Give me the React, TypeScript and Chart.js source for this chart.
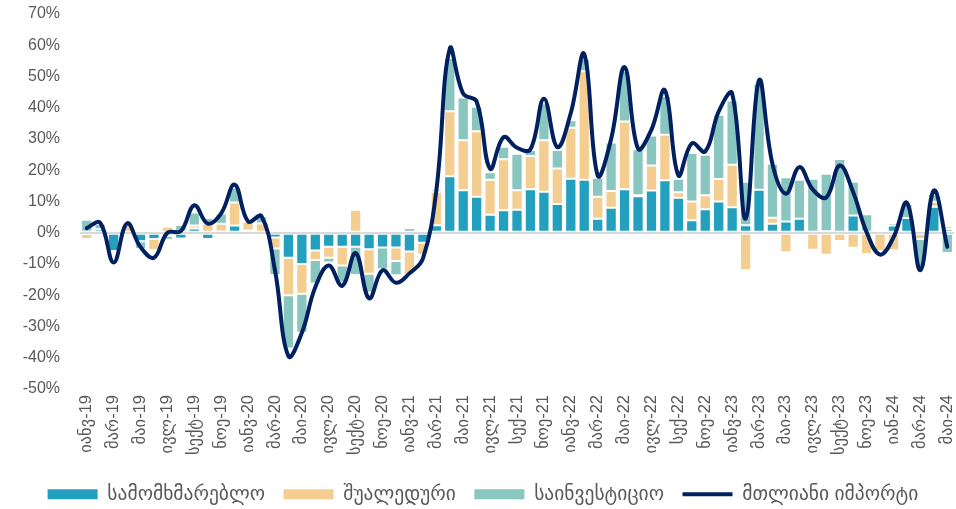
import React, { useEffect, useRef } from 'react';
import { Chart, registerables } from 'chart.js';

Chart.register(...registerables);

const months = [
  'იანვ-19', 'თებ-19', 'მარ-19', 'აპრ-19', 'მაი-19', 'ივნ-19', 'ივლ-19', 'აგვ-19', 'სექტ-19', 'ოქტ-19', 'ნოე-19', 'დეკ-19',
  'იანვ-20', 'თებ-20', 'მარ-20', 'აპრ-20', 'მაი-20', 'ივნ-20', 'ივლ-20', 'აგვ-20', 'სექტ-20', 'ოქტ-20', 'ნოე-20', 'დეკ-20',
  'იანვ-21', 'თებ-21', 'მარ-21', 'აპრ-21', 'მაი-21', 'ივნ-21', 'ივლ-21', 'აგვ-21', 'სექ-21', 'ოქტ-21', 'ნოე-21', 'დეკ-21',
  'იანვ-22', 'თებ-22', 'მარ-22', 'აპრ-22', 'მაი-22', 'ივნ-22', 'ივლ-22', 'აგვ-22', 'სექ-22', 'ოქტ-22', 'ნოე-22', 'დეკ-22',
  'იანვ-23', 'თებ-23', 'მარ-23', 'აპრ-23', 'მაი-23', 'ივნ-23', 'ივლ-23', 'აგვ-23', 'სექტ-23', 'ოქტ-23', 'ნოე-23', 'დეკ-23',
  'იან-24', 'თებ-24', 'მარ-24', 'აპრ-24', 'მაი-24',
];

const seriesNames = ['სამომხმარებლო', 'შუალედური', 'საინვესტიციო', 'მთლიანი იმპორტი'];

const consumer = [
  -0.4, 1.1, -5.8, 0, -2.7, -2, -1, -1.8, 1.4, -2, 0.4, 2.3,
  0.7, -0.8, -1.5, -8, -10, -5.7, -4.5, -4.5, -4.5, -5.3, -4.7, -4.7,
  -6, -3.2, 2.4, 18.1, 13.6, 11.5, 5.8, 7.2, 7.4, 13.9, 13.1, 9.2,
  17.3, 17, 4.5, 8, 13.9, 11.7, 13.5, 16.8, 11.2, 4, 7.5, 10,
  8.2, 2.4, 13.8, 2.9, 3.6, 4.5, 0, 0.5, 0, 5.5, 0.3, 0,
  2.3, 4.7, -0.4, 8.3, 1.1,
];

const intermediate = [
  -1.6, 0, 0, 2.5, 0.8, -3.5, 1.9, 0, 0.9, 3, 2.5, 7.4,
  2.8, 3, -3.5, -12, -9.5, -3, -3.5, -6, 7.4, -7.8, 0, -4.3,
  -7.5, -3.8, 10.7, 20.8, 16, 21, 11.2, 16.3, 6.2, 10.7, 16.5, 11.4,
  16.3, 34.7, 7, 5.4, 21.7, 0.3, 8, 14.6, 1.8, 6, 4.5, 7.2,
  13.6, -12, 0, 1.9, -6.2, 0, -5.4, -7, -2.6, -4.8, -6.8, -5.8,
  -5.6, 0, -1.6, 1.6, 1,
];

const investment = [
  4.2, 1.7, 0, 0.3, -2.5, 0, -1.2, 2.5, 4.2, 1.7, 3.2, 4.8,
  0, 2.4, -8.5, -17, -12.5, -7.5, -1.5, -5.5, -9, -6, -7, -4.6,
  1.5, 0, 0.8, 17, 13.7, 7.8, 2.4, 4, 11.7, 1.9, 11.8, 5.9,
  2.4, 3.9, 6.1, 15.5, 16.2, 14.7, 9.6, 12.4, 4.3, 15.5, 13, 20.6,
  20.5, 13.9, 34, 17.3, 14.2, 12.5, 17.3, 18.4, 23.6, 10.8, 5.6, -0.6,
  0.8, 4.5, -9, 2.4, -6.5,
];

const totalImports = [
  1.5, 3.2, -9.5, 3, -4.6, -8, 0, 0.5, 8.8, 2.9, 6.2, 15.4,
  3.6, 5.3, -12, -39.5, -32, -17.4, -10.5, -17, -6.5, -21, -12, -16,
  -13, -8.3, 13.5, 58.9, 44.5, 42, 20.5, 30.6, 27.2, 26.7, 42.9, 27.4,
  38.3, 57.2, 18.3, 30, 53, 26.9, 33, 45.6, 18.4, 28.6, 26, 38.8,
  44.6, 4.5, 48.8, 22, 12.5, 21, 13.8, 11.3, 21.5, 13, 0.2, -7,
  -1.5, 9.6, -12, 13.5, -4.5,
];

const BLUE = '#23A0BE';
const ORANGE = '#F4CD90';
const TEAL = '#88C6BF';
const NAVY = '#002060';
const TEXT = '#595959';
const FONT = "'Liberation Sans', 'DejaVu Sans', sans-serif";

const LEGEND_SHIFT = 5;

const legendShift = {
  id: 'legendShift',
  afterLayout(chart: any) {
    const lg = chart.legend;
    if (lg) {
      lg.top += LEGEND_SHIFT;
      lg.bottom += LEGEND_SHIFT;
    }
  },
};

export default function App() {
  const ref = useRef<HTMLCanvasElement>(null);

  useEffect(() => {
    const canvas = ref.current;
    if (!canvas) return;
    const barCommon = {
      type: 'bar' as const,
      borderColor: '#ffffff',
      borderWidth: 1,
      borderSkipped: false as const,
      stack: 's',
      order: 1,
    };
    const chart = new Chart(canvas, {
      type: 'bar',
      data: {
        labels: months,
        datasets: [
          { ...barCommon, label: seriesNames[0], data: consumer, backgroundColor: BLUE },
          { ...barCommon, label: seriesNames[1], data: intermediate, backgroundColor: ORANGE },
          { ...barCommon, label: seriesNames[2], data: investment, backgroundColor: TEAL },
          {
            type: 'line' as const,
            label: seriesNames[3],
            data: totalImports,
            borderColor: NAVY,
            backgroundColor: NAVY,
            borderWidth: 4,
            pointRadius: 0,
            pointHoverRadius: 0,
            tension: 0.4,
            borderCapStyle: 'round',
            borderJoinStyle: 'round',
            order: 0,
          } as any,
        ],
      },
      plugins: [legendShift],
      options: {
        responsive: false,
        animation: false,
        layout: { padding: { left: 12, right: 2, top: 14, bottom: 0 } },
        datasets: { bar: { barPercentage: 1, categoryPercentage: 0.84 } },
        scales: {
          x: {
            stacked: true,
            grid: { display: false, drawTicks: false },
            border: { display: false },
            ticks: {
              autoSkip: false,
              minRotation: 90,
              maxRotation: 90,
              padding: 6,
              color: TEXT,
              font: { family: FONT, size: 16.5 },
              callback: (_v: any, i: number) => (i % 2 === 0 ? months[i] : ''),
            },
            afterFit: (s: any) => {
              s.height = 72;
              s.paddingLeft = 0;
              s.paddingRight = 0;
            },
          },
          y: {
            stacked: true,
            min: -50,
            max: 70,
            border: { display: false },
            grid: {
              drawTicks: false,
              lineWidth: 2,
              color: (c: any) => (c.tick && c.tick.value === 0 ? '#D9D9D9' : 'rgba(0,0,0,0)'),
            },
            ticks: {
              stepSize: 10,
              padding: 20,
              color: TEXT,
              font: { family: FONT, size: 16 },
              callback: (v: any) => `${v}%`,
            },
            afterFit: (s: any) => {
              s.width = 68;
              s.paddingTop = 0;
              s.paddingBottom = 0;
            },
          },
        },
        plugins: {
          tooltip: { enabled: false },
          legend: {
            position: 'bottom',
            labels: {
              usePointStyle: true,
              pointStyleWidth: 50,
              boxHeight: 10,
              padding: 18.5,
              color: TEXT,
              font: { family: FONT, size: 19.5 },
              generateLabels: (ch: any) => {
                const items = (Chart.defaults.plugins.legend.labels as any).generateLabels(ch);
                items.sort((a: any, b: any) => a.datasetIndex - b.datasetIndex);
                return items.map((it: any) =>
                  it.datasetIndex === 3
                    ? { ...it, pointStyle: 'line', lineWidth: 4, strokeStyle: NAVY }
                    : { ...it, pointStyle: 'rect', lineWidth: 0, strokeStyle: it.fillStyle }
                );
              },
            },
          },
        },
      } as any,
    });
    return () => chart.destroy();
  }, []);

  return (
    <div style={{ position: 'absolute', left: 0, top: 0, width: 956, height: 509 }}>
      <canvas ref={ref} width={956} height={509} />
    </div>
  );
}
